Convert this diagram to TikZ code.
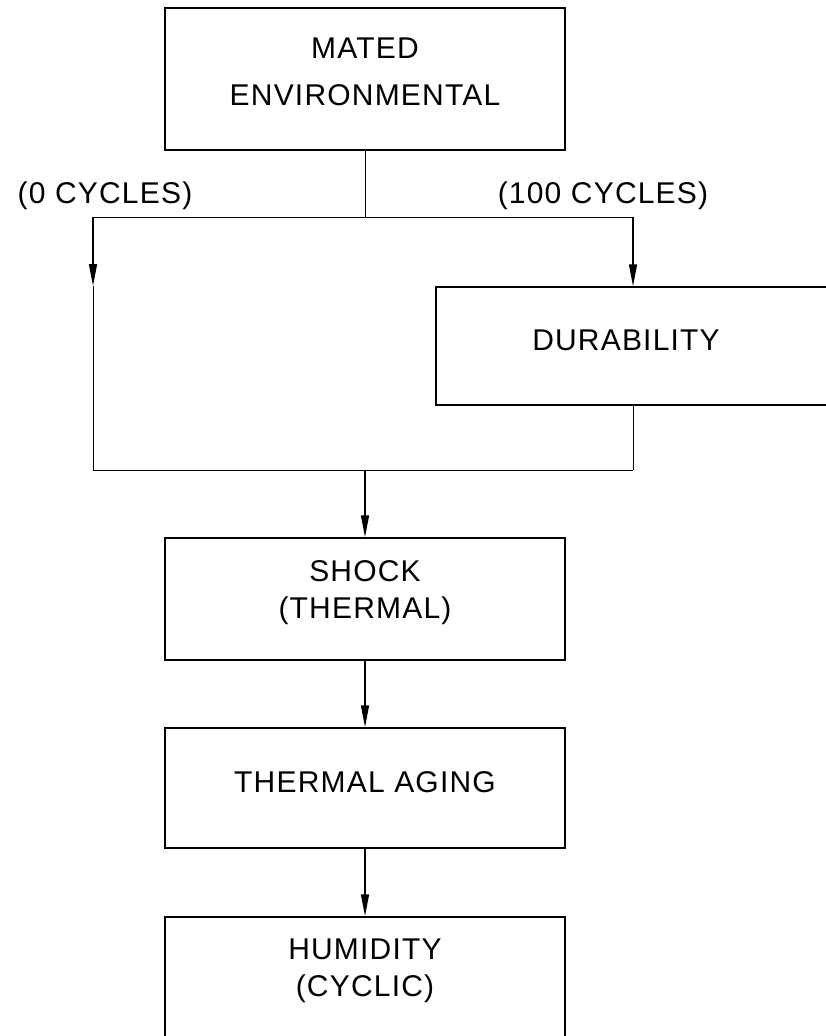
\documentclass[tikz,border=0pt]{standalone}
\usepackage{fontspec}
\usetikzlibrary{arrows.meta}
\newfontfamily\cad[LetterSpace=4]{Liberation Sans}
\tikzset{
  x=1pt, y=-1pt,
  box/.style={draw, line width=1.5pt, rectangle, minimum width=400pt, inner sep=0pt,
    align=center, font={\cad\fontsize{30}{37}\selectfont}},
  lbl/.style={inner sep=0pt, anchor=base, font={\cad\fontsize{30}{37}\selectfont}},
  thin/.style={line width=1pt},
  arr/.style={line width=1.5pt, -{Triangle[length=22pt,width=8pt]}},
}
\begin{document}
\begin{tikzpicture}
\useasboundingbox (0,0) rectangle (825,1036);
\fill[white] (0,0) rectangle (825,1036);
% boxes
\node[box, minimum height=142pt, text depth=14pt, font={\cad\fontsize{30}{47}\selectfont}] (mated) at (365,79) {MATED\\ENVIRONMENTAL};
\node[box, minimum height=118pt] (dur) at (636,346) {};
\node[lbl] (durtxt) at (626,350) {DURABILITY};
\node[box, minimum height=122pt, text depth=18pt] (shock) at (365,599) {SHOCK\\(THERMAL)};
\node[box, minimum height=120pt, text depth=12pt] (aging) at (365,788) {THERMAL AGING};
\node[box, minimum height=120pt, text depth=18pt] (humid) at (365,977) {HUMIDITY\\(CYCLIC)};
% labels
\node[lbl] (l0) at (105,203) {(0 CYCLES)};
\node[lbl] (l100) at (603,203) {(100 CYCLES)};
% junction coordinates
\coordinate (jt) at (365,217);
\coordinate (lt) at (93,217);
\coordinate (rt) at (633,217);
\coordinate (la) at (93,286);
\coordinate (lb) at (93,470);
\coordinate (rb) at (633,470);
\coordinate (jb) at (365,470);
% connectors
\draw[thin] (mated.south) -- (jt);
\draw[thin] (lt) -- (rt);
\draw[arr] (lt) -- (la);
\draw[thin] (la) -- (lb);
\draw[arr] (rt) -- (rt |- dur.north);
\draw[thin] (rt |- dur.south) -- (rb);
\draw[thin] (lb) -- (rb);
\draw[arr] (jb) -- (shock.north);
\draw[arr] (shock.south) -- (aging.north);
\draw[arr] (aging.south) -- (humid.north);
\end{tikzpicture}
\end{document}
